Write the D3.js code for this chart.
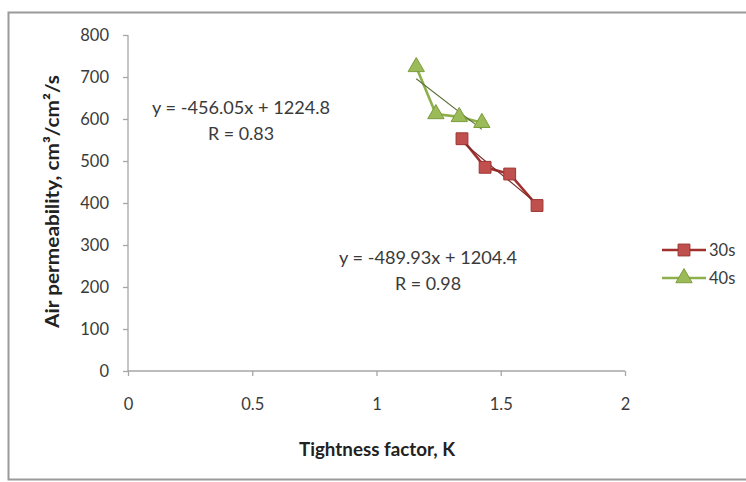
<!DOCTYPE html>
<html>
<head>
<meta charset="utf-8">
<script src="https://cdn.jsdelivr.net/npm/d3@7"></script>
<style>
  html, body { margin: 0; padding: 0; background: #fff; }
  svg { display: block; }
</style>
</head>
<body>
<svg id="chart" width="746" height="482"></svg>
<script>
// Tightness factor K and air permeability for the two series
const seriesNames = ["30s", "40s"];
const k30 = [1.344, 1.437, 1.536, 1.646];
const ap30 = [553, 485, 469, 394];
const k40 = [1.16, 1.239, 1.333, 1.424];
const ap40 = [724, 612, 605, 591];

// Linear trendlines (slope, intercept) and their R values
const slopes = [-489.93, -456.05];
const intercepts = [1204.4, 1224.8];
const rValues = [0.98, 0.83];

const xTicks = [0, 0.5, 1, 1.5, 2];
const yTicks = [0, 100, 200, 300, 400, 500, 600, 700, 800];

const svg = d3.select("#chart");
const font = "Lato, 'Open Sans', sans-serif";

// Outer chart frame
svg.append("rect")
  .attr("x", 8.5).attr("y", 12.5)
  .attr("width", 745).attr("height", 467)
  .attr("fill", "#fff")
  .attr("stroke", "#9a9a9a").attr("stroke-width", 2);

const x = d3.scaleLinear().domain([0, 2]).range([128, 625]);
const y = d3.scaleLinear().domain([0, 800]).range([371, 35]);

// Axes
const xAxis = d3.axisBottom(x).tickValues(xTicks).tickFormat(d3.format("")).tickSize(5).tickPadding(22);
const yAxis = d3.axisLeft(y).tickValues(yTicks).tickSize(5).tickPadding(14);

const gx = svg.append("g").attr("transform", `translate(0,${y(0)})`).call(xAxis);
const gy = svg.append("g").attr("transform", `translate(${x(0)},0)`).call(yAxis);
[gx, gy].forEach(g => {
  g.select(".domain").attr("stroke", "#a6a6a6").attr("stroke-width", 1.3);
  g.selectAll(".tick line").attr("stroke", "#a6a6a6").attr("stroke-width", 1.3);
  g.selectAll(".tick text").attr("fill", "#3a3a3a").attr("font-size", 16.5).attr("font-family", font);
});
gy.select(".domain").attr("d", `M0,${y(800)}V${y(0)}`);
gx.select(".domain").attr("d", `M0,0H${x(2) - x(0)}`).attr("transform", `translate(${x(0)},0)`);

// Axis titles
svg.append("text")
  .attr("x", 377).attr("y", 456)
  .attr("text-anchor", "middle")
  .attr("font-family", font).attr("font-weight", "bold").attr("font-size", 18.5)
  .attr("textLength", 156).attr("lengthAdjust", "spacingAndGlyphs")
  .attr("fill", "#222")
  .text("Tightness factor, K");

svg.append("text")
  .attr("transform", "translate(59,201.5) rotate(-90)")
  .attr("text-anchor", "middle")
  .attr("font-family", font).attr("font-weight", "bold").attr("font-size", 19)
  .attr("textLength", 253).attr("lengthAdjust", "spacingAndGlyphs")
  .attr("fill", "#222")
  .text("Air permeability, cm³/cm²/s");

const colors = {
  "30s": { fill: "#c0504d", stroke: "#9c3431", line: "#a0302d", trend: "#7a2a28" },
  "40s": { fill: "#9bbb59", stroke: "#7d9b3c", line: "#8db04a", trend: "#5a6e3a" }
};

const data = [
  { name: seriesNames[0], ks: k30, vals: ap30, slope: slopes[0], intercept: intercepts[0], r: rValues[0] },
  { name: seriesNames[1], ks: k40, vals: ap40, slope: slopes[1], intercept: intercepts[1], r: rValues[1] }
];

const line = d3.line().x(d => x(d[0])).y(d => y(d[1]));
const square = d3.symbol().type(d3.symbolSquare).size(140)();
const triangle = d3.symbol().type(d3.symbolTriangle).size(115)();

data.forEach(s => {
  const c = colors[s.name];
  const pts = s.ks.map((k, i) => [k, s.vals[i]]);
  // series line
  svg.append("path").attr("d", line(pts))
    .attr("fill", "none").attr("stroke", c.line).attr("stroke-width", 2.6);
  // trendline over the data range
  const kMin = d3.min(s.ks), kMax = d3.max(s.ks);
  svg.append("path").attr("d", line([[kMin, s.slope * kMin + s.intercept], [kMax, s.slope * kMax + s.intercept]]))
    .attr("fill", "none").attr("stroke", c.trend).attr("stroke-width", 1.1);
  // markers
  svg.append("g").selectAll("path").data(pts).join("path")
    .attr("d", s.name === "30s" ? square : triangle)
    .attr("transform", d => `translate(${x(d[0])},${y(d[1])})`)
    .attr("fill", c.fill).attr("stroke", c.stroke).attr("stroke-width", 1);
});

// Trendline equation labels
const fmtEq = (s) => `y = ${s.slope}x + ${s.intercept}`;
const eqPos = [[428, 264], [241, 114]];
data.forEach((s, i) => {
  const t = svg.append("text")
    .attr("text-anchor", "middle")
    .attr("font-family", font).attr("font-size", 17.5).attr("fill", "#3a3a3a");
  t.append("tspan").attr("x", eqPos[i][0]).attr("y", eqPos[i][1])
    .attr("textLength", 178).attr("lengthAdjust", "spacingAndGlyphs").text(fmtEq(s));
  t.append("tspan").attr("x", eqPos[i][0]).attr("y", eqPos[i][1] + 26)
    .attr("textLength", 66).attr("lengthAdjust", "spacingAndGlyphs").text(`R = ${s.r}`);
});

// Legend
const legend = svg.append("g");
data.forEach((s, i) => {
  const c = colors[s.name];
  const ly = 250 + i * 28;
  legend.append("line").attr("x1", 662).attr("x2", 706).attr("y1", ly).attr("y2", ly)
    .attr("stroke", c.line).attr("stroke-width", 2.6);
  legend.append("path").attr("d", s.name === "30s" ? square : triangle)
    .attr("transform", `translate(684,${ly})`)
    .attr("fill", c.fill).attr("stroke", c.stroke);
  legend.append("text").attr("x", 709).attr("y", ly + 6)
    .attr("font-family", font).attr("font-size", 16.5).attr("fill", "#3a3a3a")
    .text(s.name);
});
</script>
</body>
</html>
